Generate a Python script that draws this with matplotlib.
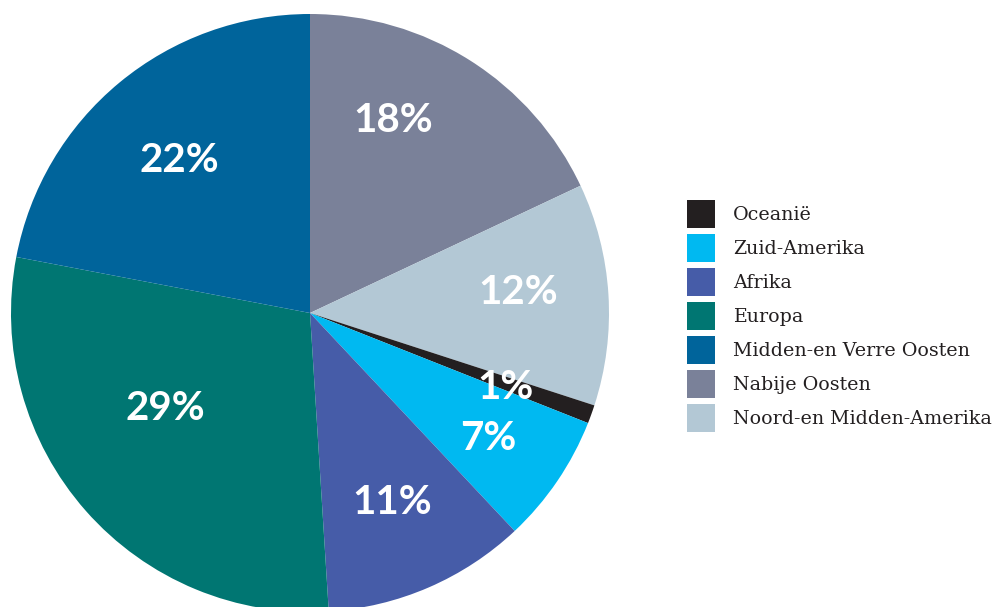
import matplotlib
matplotlib.use("Agg")
import matplotlib.pyplot as plt
import numpy as np

# Data (clockwise from top)
regions = ["Nabije Oosten", "Noord-en Midden-Amerika", "Oceanië", "Zuid-Amerika",
           "Afrika", "Europa", "Midden-en Verre Oosten"]
shares = [18, 12, 1, 7, 11, 29, 22]
legend_order = ["Oceanië", "Zuid-Amerika", "Afrika", "Europa",
                "Midden-en Verre Oosten", "Nabije Oosten", "Noord-en Midden-Amerika"]

colors = {
    "Oceanië": "#231f20",
    "Zuid-Amerika": "#00b9f1",
    "Afrika": "#465ca8",
    "Europa": "#007672",
    "Midden-en Verre Oosten": "#00649b",
    "Nabije Oosten": "#7a8199",
    "Noord-en Midden-Amerika": "#b3c8d5",
}
# label placement style (radius fraction, angle nudge in degrees)
label_r = [0.70, 0.70, 0.70, 0.73, 0.69, 0.58, 0.67]
label_da = [9, 2, -1, -1, 0, -8, 1]

W, H = 994, 607
fig = plt.figure(figsize=(W / 100, H / 100), dpi=100)
ax = fig.add_axes([0, 0, 1, 1])

cx, cy, R = 310, H - 313, 299
wedges, _ = ax.pie(shares, colors=[colors[r] for r in regions], startangle=90,
                   counterclock=False, center=(cx, cy), radius=R,
                   wedgeprops=dict(linewidth=0))
ax.set_xlim(0, W)
ax.set_ylim(0, H)
ax.set_aspect("auto")
ax.axis("off")

for w, s, rf, da in zip(wedges, shares, label_r, label_da):
    mid = np.deg2rad((w.theta1 + w.theta2) / 2 + da)
    ax.text(cx + rf * R * np.cos(mid), cy + rf * R * np.sin(mid), f"{s}%",
            ha="center", va="center", color="white", fontsize=29,
            fontweight="bold", family="Lato")

handles = [wedges[regions.index(n)] for n in legend_order]
fs = 13.7
leg = fig.legend(handles, legend_order, loc="upper left",
                 bbox_to_anchor=(687 / W, 1 - 200 / H), frameon=False,
                 prop=dict(family="DejaVu Serif", size=fs),
                 handlelength=1.47, handleheight=1.89, handletextpad=0.95,
                 labelspacing=0.315, borderpad=0, borderaxespad=0)
for t in leg.get_texts():
    t.set_color("#231f20")

fig.savefig("out.png", dpi=100)
